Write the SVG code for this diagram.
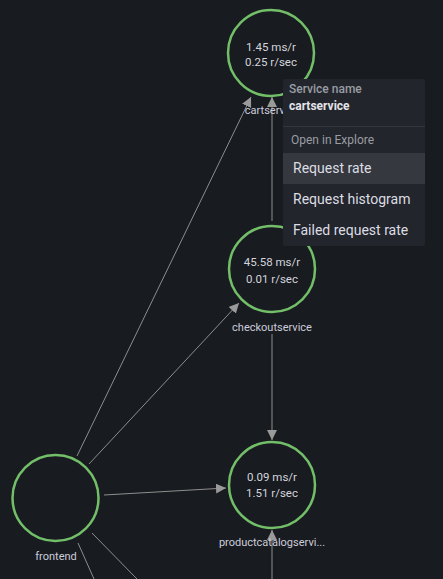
<svg xmlns="http://www.w3.org/2000/svg" width="443" height="579" viewBox="0 0 443 579">
<style>
.bg{fill:#181b1f}
.node circle{fill:none;stroke:#73bf69;stroke-width:2.5}
.m{font-family:Roboto,"Liberation Sans",sans-serif;font-size:11.5px;fill:#d4d4de;text-anchor:middle}
.lbl{font-family:Roboto,"Liberation Sans",sans-serif;font-size:11px;fill:#ccccdc;text-anchor:middle}
.edge{stroke:#8e8e8e;stroke-width:1;fill:none}
.pop{font-family:Roboto,"Liberation Sans",sans-serif}
</style>
<defs>
<marker id="ah" viewBox="0 0 10 10" refX="10" refY="5" markerWidth="10" markerHeight="10" markerUnits="userSpaceOnUse" orient="auto">
<path d="M0,0 L10,5 L0,10 z" fill="#9a9a9a"/>
</marker>
<clipPath id="cartclip"><rect x="0" y="0" width="283" height="579"/></clipPath>
</defs>
<rect class="bg" x="0" y="0" width="443" height="579"/>
<g id="edges">
<line class="edge" x1="77" y1="456" x2="251" y2="97" marker-end="url(#ah)"/>
<line class="edge" x1="89" y1="464" x2="239" y2="303" marker-end="url(#ah)"/>
<line class="edge" x1="104" y1="495" x2="226" y2="488" marker-end="url(#ah)"/>
<line class="edge" x1="272" y1="221" x2="272" y2="97" marker-end="url(#ah)"/>
<line class="edge" x1="272" y1="334" x2="272" y2="440" marker-end="url(#ah)"/>
<line class="edge" x1="272" y1="579" x2="272" y2="530" marker-end="url(#ah)"/>
<line class="edge" x1="78" y1="543" x2="94" y2="579"/>
<line class="edge" x1="92" y1="533" x2="137" y2="579"/>
</g>
<g id="cartservice" class="node">
<circle cx="271" cy="53" r="43"/>
<text class="m" x="271" y="51">1.45 ms/r</text>
<text class="m" x="271" y="66">0.25 r/sec</text>
<text class="lbl" x="272" y="114" clip-path="url(#cartclip)">cartservice</text>
</g>
<g id="checkoutservice" class="node">
<circle cx="272" cy="269" r="43"/>
<text class="m" x="272" y="266">45.58 ms/r</text>
<text class="m" x="272" y="283">0.01 r/sec</text>
<text class="lbl" x="272" y="331">checkoutservice</text>
</g>
<g id="productcatalogservice" class="node">
<circle cx="272" cy="485" r="43"/>
<text class="m" x="272" y="481">0.09 ms/r</text>
<text class="m" x="272" y="497">1.51 r/sec</text>
<text class="lbl" x="272" y="546">productcatalogservi...</text>
</g>
<g id="frontend" class="node">
<circle cx="55.5" cy="498" r="43"/>
<text class="lbl" x="56" y="560">frontend</text>
</g>
<g id="popup" class="pop">
<rect x="283" y="79" width="142" height="167" rx="2" fill="#22252b"/>
<text x="289" y="93" font-size="12" font-weight="500" fill="#9a9ca3">Service name</text>
<text x="289" y="110" font-size="12" font-weight="700" fill="#e4e4ea">cartservice</text>
<line x1="283" y1="126.5" x2="425" y2="126.5" stroke="#33363c" stroke-width="1"/>
<text x="291" y="144" font-size="12" fill="#9a9ca3">Open in Explore</text>
<rect x="283" y="153" width="142" height="31" fill="#35383e"/>
<text x="293" y="173" font-size="14" fill="#dcdce4">Request rate</text>
<text x="293" y="204" font-size="14" fill="#dcdce4">Request histogram</text>
<text x="293" y="235" font-size="14" fill="#dcdce4">Failed request rate</text>
</g>
</svg>
